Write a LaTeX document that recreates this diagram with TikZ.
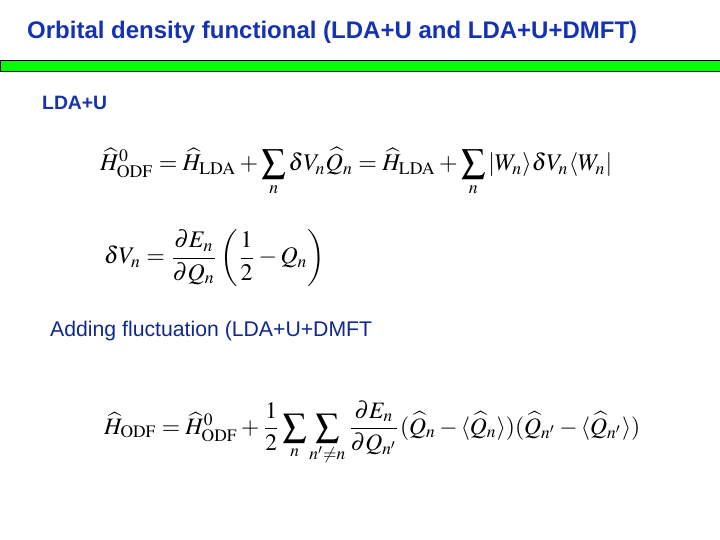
\documentclass[tikz,border=0pt]{standalone}
\usepackage{amsmath}
\usepackage{mathptmx}
\usepackage{fontspec}
\setsansfont{Liberation Sans}
\definecolor{ttl}{RGB}{20,50,180}
\definecolor{bar}{RGB}{0,255,0}
\tikzset{eq/.style={anchor=west,inner sep=0pt,text=black},
lbl/.style={anchor=west,inner sep=0pt,text=ttl}}
\begin{document}
\begin{tikzpicture}[x=1pt,y=-1pt]
\useasboundingbox (0,0) rectangle (720,540);
\fill[white] (0,0) rectangle (720,540);
\node[lbl,font=\sffamily\bfseries\fontsize{24}{28}\selectfont] (title) at (27,32) {\resizebox{610pt}{!}{Orbital density functional (LDA+U and LDA+U+DMFT)}};
\draw[fill=bar,line width=0.8pt] (0,60) rectangle (722,71);
\node[lbl,font=\sffamily\bfseries\fontsize{19}{22}\selectfont] (l1) at (42,103) {\resizebox{65pt}{!}{LDA+U}};
\node[eq] (e1) at (100,172) {\resizebox{512pt}{!}{$\widehat{H}^{0}_{\mathrm{ODF}}=\widehat{H}_{\mathrm{LDA}}+\displaystyle\sum_n \delta V_n\widehat{Q}_n=\widehat{H}_{\mathrm{LDA}}+\sum_n |W_n\rangle\delta V_n\langle W_n|$}};
\node[eq] (e2) at (104,258) {\resizebox{221pt}{!}{$\delta V_n=\dfrac{\partial E_n}{\partial Q_n}\left(\dfrac{1}{2}-Q_n\right)$}};
\node[lbl,font=\sffamily\fontsize{20}{24}\selectfont,text=ttl!80!black] (l2) at (50,331) {\resizebox{322pt}{!}{Adding fluctuation (LDA+U+DMFT}};
\node[eq] (e3) at (104,433) {\resizebox{536pt}{!}{$\widehat{H}_{\mathrm{ODF}}=\widehat{H}^{0}_{\mathrm{ODF}}+\dfrac{1}{2}\displaystyle\sum_n\sum_{n'\neq n}\dfrac{\partial E_n}{\partial Q_{n'}}(\widehat{Q}_n-\langle\widehat{Q}_n\rangle)(\widehat{Q}_{n'}-\langle\widehat{Q}_{n'}\rangle)$}};
\end{tikzpicture}
\end{document}
